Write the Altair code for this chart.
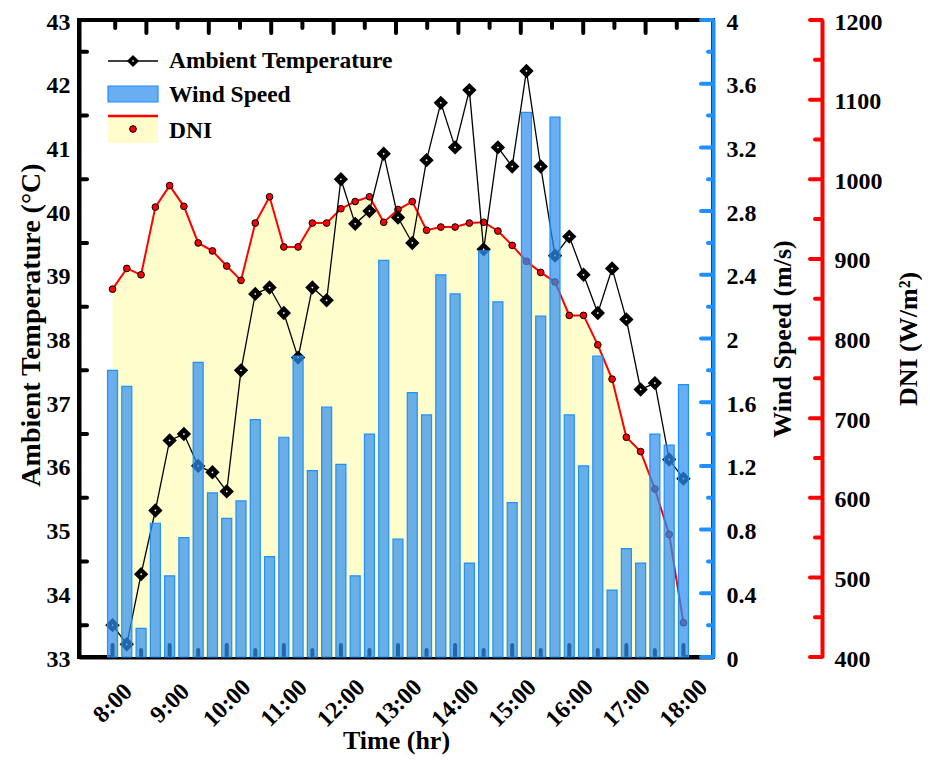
import altair as alt
import pandas as pd

# ---------------- data ----------------
time_labels = ["8:00", "8:15", "8:30", "8:45", "9:00", "9:15", "9:30", "9:45",
               "10:00", "10:15", "10:30", "10:45", "11:00", "11:15", "11:30", "11:45",
               "12:00", "12:15", "12:30", "12:45", "13:00", "13:15", "13:30", "13:45",
               "14:00", "14:15", "14:30", "14:45", "15:00", "15:15", "15:30", "15:45",
               "16:00", "16:15", "16:30", "16:45", "17:00", "17:15", "17:30", "17:45",
               "18:00"]
temperature = [33.5, 33.2, 34.3, 35.3, 36.4, 36.5, 36.0, 35.9, 35.6, 37.5,
               38.7, 38.8, 38.4, 37.7, 38.8, 38.6, 40.5, 39.8, 40.0, 40.9,
               39.9, 39.5, 40.8, 41.7, 41.0, 41.9, 39.4, 41.0, 40.7, 42.2,
               40.7, 39.3, 39.6, 39.0, 38.4, 39.1, 38.3, 37.2, 37.3, 36.1, 35.8]
wind_speed = [1.80, 1.70, 0.18, 0.84, 0.51, 0.75, 1.85, 1.03, 0.87, 0.98,
              1.49, 0.63, 1.38, 1.89, 1.17, 1.57, 1.21, 0.51, 1.40, 2.49,
              0.74, 1.66, 1.52, 2.40, 2.28, 0.59, 2.55, 2.23, 0.97, 3.42,
              2.14, 3.39, 1.52, 1.20, 1.89, 0.42, 0.68, 0.59, 1.40, 1.33, 1.71]
dni = [862, 888, 880, 965, 992, 966, 920, 910, 891, 873,
       945, 978, 915, 915, 945, 945, 963, 972, 978, 946,
       962, 972, 936, 940, 940, 945, 946, 935, 917, 897,
       883, 871, 829, 829, 792, 749, 676, 658, 611, 554, 443]

hour_ticks = [8, 9, 10, 11, 12, 13, 14, 15, 16, 17, 18]
half_hour_ticks = [8.5, 9.5, 10.5, 11.5, 12.5, 13.5, 14.5, 15.5, 16.5, 17.5]
temp_values = [33, 34, 35, 36, 37, 38, 39, 40, 41, 42, 43]
temp_minor = [33.5, 34.5, 35.5, 36.5, 37.5, 38.5, 39.5, 40.5, 41.5, 42.5]
wind_values = [0, 0.4, 0.8, 1.2, 1.6, 2, 2.4, 2.8, 3.2, 3.6, 4]
wind_minor = [0.2, 0.6, 1.0, 1.4, 1.8, 2.2, 2.6, 3.0, 3.4, 3.8]
dni_values = [400, 500, 600, 700, 800, 900, 1000, 1100, 1200]
dni_minor = [450, 550, 650, 750, 850, 950, 1050, 1150]
legend_labels = ["Ambient Temperature", "Wind Speed", "DNI"]

# ---------------- layout / style ----------------
FONT = "Liberation Serif"
W, H = 634, 637
X_DOMAIN = [7.5, 18.43]
DNI_OFFSET = 109
BLUE = "#1E90FF"
BAR_FILL = "#2F8FEF"
YELLOW = "#FFFDCC"

hours = [int(s.split(":")[0]) + int(s.split(":")[1]) / 60 for s in time_labels]
df = pd.DataFrame({"time": time_labels, "t": hours, "temp": temperature,
                   "wind": wind_speed, "dni": dni})

# top frame ticks: an independent 0-10 scale across the frame (major 1, minor 0.5)
span = X_DOMAIN[1] - X_DOMAIN[0]
top_major = [X_DOMAIN[0] + span * k / 10 for k in range(1, 10)]
top_minor = [X_DOMAIN[0] + span * (k + 0.5) / 10 for k in range(0, 10)]

x_scale = alt.Scale(domain=X_DOMAIN, nice=False, zero=False)
temp_scale = alt.Scale(domain=[33, 43], nice=False, zero=False)
wind_scale = alt.Scale(domain=[0, 4], nice=False, zero=False)
dni_scale = alt.Scale(domain=[400, 1200], nice=False, zero=False)

common = dict(grid=False, labelOverlap=False, labelFlush=False, labelBound=False,
              tickSize=0, labelFont=FONT, titleFont=FONT, labelFontWeight="bold",
              titleFontWeight="bold", labelColor="black", titleColor="black")

x_axis = alt.Axis(values=hour_ticks, labelExpr="datum.value + ':00'",
                  labelAngle=315, labelAlign="center", labelBaseline="middle",
                  labelPadding=46, labelFontSize=24, titleFontSize=26,
                  domainColor="black", domainWidth=4,
                  title="Time (hr)", titleX=W / 2, titleY=91, titleAlign="center",
                  titleBaseline="alphabetic", **common)
temp_axis = alt.Axis(orient="left", values=temp_values, labelPadding=9,
                     labelOffset=2, labelFontSize=24, titleFontSize=28,
                     domainColor="black", domainWidth=4,
                     title="Ambient Temperature (°C)", titleAngle=270,
                     titleX=-48, titleY=H / 2 - 14, titleAlign="center",
                     titleBaseline="middle", **common)
wind_axis = alt.Axis(orient="right", values=wind_values, format="~g",
                     labelPadding=13, labelOffset=2, labelFontSize=24,
                     titleFontSize=26, domainColor=BLUE, domainWidth=4,
                     title="Wind Speed (m/s)", titleAngle=270, titleX=69,
                     titleY=H / 2, titleAlign="center", titleBaseline="middle",
                     **common)
dni_axis = alt.Axis(orient="right", offset=DNI_OFFSET, values=dni_values, format="d",
                    labelPadding=12, labelOffset=2, labelFontSize=24,
                    titleFontSize=26, domainColor="red", domainWidth=4,
                    title="DNI (W/m²)", titleAngle=270, titleX=86, titleY=H / 2,
                    titleAlign="center", titleBaseline="middle", **common)

X = alt.X("t:Q", scale=x_scale, axis=x_axis)

# ---------------- DNI layer ----------------
base = alt.Chart(df)
Ydni = alt.Y("dni:Q", scale=dni_scale, axis=dni_axis)
dni_area = base.mark_area(color=YELLOW, opacity=1).encode(X, y=Ydni, y2=alt.datum(400))
dni_tick_major = alt.Chart(pd.DataFrame({"dni": dni_values})).mark_rule(
    color="red", strokeWidth=4, strokeCap="round").encode(
    y=Ydni, x=alt.value(W + DNI_OFFSET - 12), x2=alt.value(W + DNI_OFFSET))
dni_tick_minor = alt.Chart(pd.DataFrame({"dni": dni_minor})).mark_rule(
    color="red", strokeWidth=4, strokeCap="round").encode(
    y=Ydni, x=alt.value(W + DNI_OFFSET - 7), x2=alt.value(W + DNI_OFFSET))
dni_line = base.mark_line(color="#FF0000", strokeWidth=2).encode(X, y=Ydni)
dni_pts = base.mark_point(shape="circle", filled=True, color="#FF0000", stroke="black",
                          strokeWidth=1, size=45, opacity=1).encode(X, y=Ydni)
dni_layer = alt.layer(dni_area, dni_tick_major, dni_tick_minor, dni_line, dni_pts)

# ---------------- temperature layer ----------------
Ytemp = alt.Y("temp:Q", scale=temp_scale, axis=temp_axis)
temp_ticks = alt.Chart(pd.DataFrame({"temp": temp_minor})).mark_rule(
    color="black", strokeWidth=4, strokeCap="round").encode(
    y=Ytemp, x=alt.value(0), x2=alt.value(8))
temp_line = base.mark_line(color="black", strokeWidth=1.3).encode(X, y=Ytemp)
temp_pts = base.mark_point(shape="diamond", filled=True, color="black", stroke="black",
                           strokeWidth=1.5, size=150, opacity=1).encode(X, y=Ytemp)
temp_ctr = base.mark_point(shape="diamond", filled=True, color="white", strokeWidth=0,
                           size=5, opacity=1).encode(X, y=Ytemp)
temp_layer = alt.layer(temp_ticks, temp_line, temp_pts, temp_ctr)

# ---------------- wind layer ----------------
Ywind = alt.Y("wind:Q", scale=wind_scale, axis=wind_axis)
Xt = alt.X("t:Q", scale=x_scale, axis=x_axis)
bot_major = alt.Chart(pd.DataFrame({"t": hour_ticks})).mark_rule(
    color="black", strokeWidth=4, strokeCap="round").encode(
    Xt, y=alt.value(H), y2=alt.value(H - 12))
bot_minor = alt.Chart(pd.DataFrame({"t": half_hour_ticks})).mark_rule(
    color="black", strokeWidth=4, strokeCap="round").encode(
    Xt, y=alt.value(H), y2=alt.value(H - 7))
top_maj = alt.Chart(pd.DataFrame({"t": top_major})).mark_rule(
    color="black", strokeWidth=4, strokeCap="round").encode(
    Xt, y=alt.value(0), y2=alt.value(13))
top_min = alt.Chart(pd.DataFrame({"t": top_minor})).mark_rule(
    color="black", strokeWidth=4, strokeCap="round").encode(
    Xt, y=alt.value(0), y2=alt.value(8))
wind_tick_major = alt.Chart(pd.DataFrame({"wind": wind_values})).mark_rule(
    color=BLUE, strokeWidth=4, strokeCap="round").encode(
    y=Ywind, x=alt.value(W - 12), x2=alt.value(W))
wind_tick_minor = alt.Chart(pd.DataFrame({"wind": wind_minor})).mark_rule(
    color=BLUE, strokeWidth=4, strokeCap="round").encode(
    y=Ywind, x=alt.value(W - 5), x2=alt.value(W))
bars = base.mark_bar(size=10, orient="vertical", fill=BAR_FILL, fillOpacity=0.72,
                     stroke=BLUE, strokeWidth=1.2).encode(X, y=Ywind)
wind_layer = alt.layer(bot_major, bot_minor, top_maj, top_min,
                       wind_tick_major, wind_tick_minor, bars)

# ---------------- legend ----------------
one = pd.DataFrame({"a": [0]})
lg = []
lg.append(alt.Chart(one).mark_rule(color="black", strokeWidth=1.3).encode(
    x=alt.value(29), x2=alt.value(79), y=alt.value(41)))
lg.append(alt.Chart(one).mark_point(shape="diamond", filled=True, color="black",
                                    size=150, opacity=1).encode(
    x=alt.value(54), y=alt.value(41)))
lg.append(alt.Chart(one).mark_point(shape="diamond", filled=True, color="white",
                                    strokeWidth=0, size=5, opacity=1).encode(
    x=alt.value(54), y=alt.value(41)))
lg.append(alt.Chart(one).mark_rect(fill=BAR_FILL, fillOpacity=0.72, stroke=BLUE,
                                   strokeWidth=1.2).encode(
    x=alt.value(29), x2=alt.value(79), y=alt.value(66), y2=alt.value(82)))
lg.append(alt.Chart(one).mark_rect(fill=YELLOW).encode(
    x=alt.value(29), x2=alt.value(79), y=alt.value(96), y2=alt.value(123)))
lg.append(alt.Chart(one).mark_rule(color="#FF0000", strokeWidth=2.5).encode(
    x=alt.value(29), x2=alt.value(79), y=alt.value(96)))
lg.append(alt.Chart(one).mark_point(shape="circle", filled=True, color="#FF0000",
                                    stroke="black", strokeWidth=1, size=45,
                                    opacity=1).encode(
    x=alt.value(54), y=alt.value(109)))
for lab, yb in zip(legend_labels, [48, 82, 118]):
    lg.append(alt.Chart(pd.DataFrame({"label": [lab]})).mark_text(
        font=FONT, fontSize=23.5, fontWeight="bold", color="black", align="left",
        baseline="alphabetic").encode(text="label:N", x=alt.value(90), y=alt.value(yb)))
legend_layer = alt.layer(*lg)

chart = alt.layer(dni_layer, temp_layer, wind_layer, legend_layer).resolve_scale(
    y="independent"
).properties(
    width=W, height=H,
    background="white",
    autosize=alt.AutoSizeParams(type="none"),
    padding={"left": 71, "top": 12, "right": 209, "bottom": 98},
).configure_view(
    stroke="black", strokeWidth=4
).configure_axis(
    labelFont=FONT, titleFont=FONT, labelFontWeight="bold", titleFontWeight="bold",
    labelColor="black", titleColor="black", grid=False
)

chart.save("out.html", embed_options={"renderer": "svg", "actions": False})
